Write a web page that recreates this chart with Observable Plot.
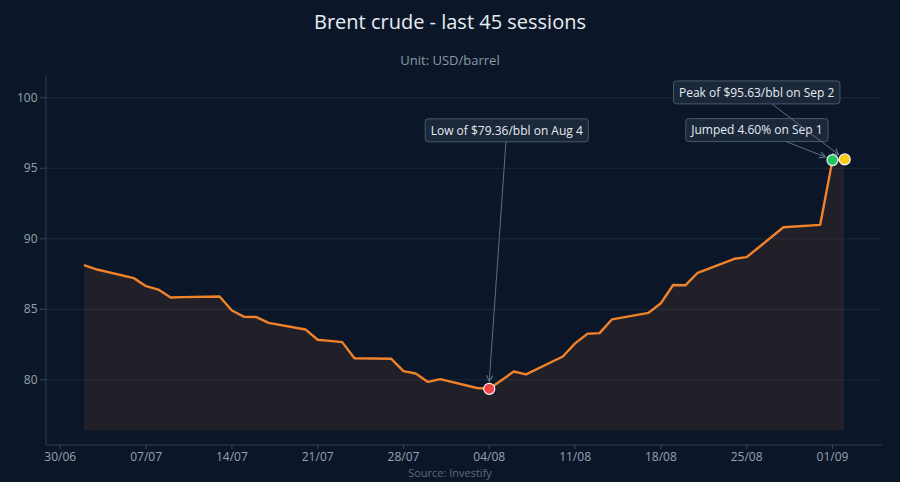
<!DOCTYPE html>
<html>
<head>
<meta charset="utf-8">
<script src="https://cdn.jsdelivr.net/npm/d3@7"></script>
<script src="https://cdn.jsdelivr.net/npm/@observablehq/plot@0.6"></script>
<style>
  html, body { margin: 0; padding: 0; background: #0b1728; }
  body { width: 900px; height: 482px; overflow: hidden; font-family: "Open Sans", "Noto Sans", sans-serif; }
  #title { height: 24px; padding-top: 10px; line-height: 24px; font-size: 20px; color: #e8edf3; text-align: center; }
  #subtitle { margin-top: 18px; height: 16px; line-height: 16px; font-size: 13px; color: #8e98a8; text-align: center; }
  #chart svg { display: block; }
  #source { height: 14px; line-height: 14px; font-size: 11px; color: #5d6a7c; text-align: center; }
</style>
</head>
<body>
<div id="title">Brent crude - last 45 sessions</div>
<div id="subtitle">Unit: USD/barrel</div>
<div id="chart"></div>
<div id="source">Source: Investify</div>
<script>
// ---- data ----
const sessionDates = [
  "2020-07-02","2020-07-03","2020-07-06","2020-07-07","2020-07-08","2020-07-09","2020-07-10",
  "2020-07-13","2020-07-14","2020-07-15","2020-07-16","2020-07-17",
  "2020-07-20","2020-07-21","2020-07-22","2020-07-23","2020-07-24",
  "2020-07-27","2020-07-28","2020-07-29","2020-07-30","2020-07-31",
  "2020-08-03","2020-08-04","2020-08-05","2020-08-06","2020-08-07",
  "2020-08-10","2020-08-11","2020-08-12","2020-08-13","2020-08-14",
  "2020-08-17","2020-08-18","2020-08-19","2020-08-20","2020-08-21",
  "2020-08-24","2020-08-25","2020-08-26","2020-08-27","2020-08-28",
  "2020-08-31","2020-09-01","2020-09-02"
];
const closePrices = [
  88.11, 87.82, 87.21, 86.64, 86.40, 85.84, 85.86,
  85.91, 84.91, 84.46, 84.45, 84.04,
  83.57, 82.84, 82.76, 82.67, 81.53,
  81.49, 80.61, 80.45, 79.85, 80.05,
  79.42, 79.36, 79.97, 80.59, 80.38,
  81.65, 82.58, 83.26, 83.31, 84.28,
  84.75, 85.43, 86.72, 86.70, 87.59,
  88.58, 88.70, 89.40, 90.11, 90.82,
  90.99, 95.58, 95.63
];
const areaFloor = 76.36;
const yTicks = [80, 85, 90, 95, 100];
const xTickDates = ["2020-06-30","2020-07-07","2020-07-14","2020-07-21","2020-07-28",
  "2020-08-04","2020-08-11","2020-08-18","2020-08-25","2020-09-01"];
const annotationDates = ["2020-08-04", "2020-09-01", "2020-09-02"];
const annotationTexts = ["Low of $79.36/bbl on Aug 4", "Jumped 4.60% on Sep 1", "Peak of $95.63/bbl on Sep 2"];

// ---- build tables ----
const series = sessionDates.map((d, i) => ({date: new Date(d + "T00:00:00Z"), price: closePrices[i]}));
const annotations = annotationDates.map((d, i) => {
  const idx = sessionDates.indexOf(d);
  return {date: series[idx].date, price: series[idx].price, text: annotationTexts[i]};
});

// layout of annotation callouts (pixel offsets from point), and marker colours
const calloutOffsets = [[18, -258], [-75, -29.5], [-87.5, -66.5]];
const markerFills = ["#ef4444", "#22c55e", "#facc15"];

const W = 900, H = 398, mT = 7, mB = 21, mL = 46, mR = 18;

const canvas = document.createElement("canvas");
const ctx = canvas.getContext("2d");
ctx.font = '12px "Open Sans"';

function axisLines(index, scales, values, dims) {
  const g = d3.create("svg:g").attr("stroke", "#2e3d52").attr("stroke-width", 1);
  const x0 = dims.marginLeft, x1 = dims.width - dims.marginRight;
  const y0 = dims.marginTop, y1 = dims.height - dims.marginBottom;
  g.append("line").attr("x1", x0).attr("x2", x0).attr("y1", y0).attr("y2", y1);
  g.append("line").attr("x1", x0).attr("x2", x1).attr("y1", y1).attr("y2", y1);
  return g.node();
}

function callouts(index, scales) {
  const g = d3.create("svg:g");
  annotations.forEach((a, i) => {
    const px = scales.x(a.date), py = scales.y(a.price);
    const [ox, oy] = calloutOffsets[i];
    const cx = px + ox, cy = py + oy;
    const tw = ctx.measureText(a.text).width;
    const hw = tw / 2 + 5.5, hh = 11.5;
    const dx = px - cx, dy = py - cy;
    const len = Math.hypot(dx, dy);
    const ux = dx / len, uy = dy / len;
    const tEdge = Math.min(Math.abs(dx) > 0 ? hw / Math.abs(dx) : Infinity, hh / Math.abs(dy));
    const sx = cx + dx * tEdge, sy = cy + dy * tEdge;
    const ex = px - ux * 7, ey = py - uy * 7;
    g.append("line").attr("x1", sx).attr("y1", sy).attr("x2", ex).attr("y2", ey)
      .attr("stroke", "#5f6d82").attr("stroke-width", 1);
    // arrow head (open chevron)
    const ah = 6, aw = 3.2;
    const bx = ex - ux * ah, by = ey - uy * ah;
    g.append("path")
      .attr("d", `M${bx - uy * aw},${by + ux * aw}L${ex},${ey}L${bx + uy * aw},${by - ux * aw}`)
      .attr("fill", "none").attr("stroke", "#5f6d82").attr("stroke-width", 1.2);
    g.append("rect").attr("x", cx - hw).attr("y", cy - hh).attr("width", hw * 2).attr("height", hh * 2)
      .attr("rx", 3).attr("fill", "#1b2839").attr("stroke", "#4a586c").attr("stroke-width", 1);
    g.append("text").attr("x", cx).attr("y", cy).attr("dy", "0.35em").attr("text-anchor", "middle")
      .attr("fill", "#e6eaf0").attr("font-size", 12).attr("font-family", '"Open Sans", sans-serif')
      .text(a.text);
  });
  return g.node();
}

const chart = Plot.plot({
  width: W, height: H,
  marginTop: mT, marginBottom: mB, marginLeft: mL, marginRight: mR,
  style: {background: "transparent", color: "#97a1b1", fontSize: "12px", fontFamily: '"Open Sans", sans-serif'},
  x: {type: "utc", domain: [new Date(Date.UTC(2020, 5, 28, 21)), new Date(Date.UTC(2020, 8, 5, 2))]},
  y: {domain: [75.34, 101.58]},
  marks: [
    Plot.gridY(yTicks, {stroke: "#1a293c", strokeOpacity: 1}),
    Plot.areaY(series, {x: "date", y1: areaFloor, y2: "price", fill: "#ff8a3a", fillOpacity: 0.09}),
    Plot.line(series, {x: "date", y: "price", stroke: "#f0822a", strokeWidth: 2.4, strokeLinejoin: "round"}),
    axisLines,
    Plot.axisX(xTickDates.map(d => new Date(d + "T00:00:00Z")), {
      tickFormat: d3.utcFormat("%d/%m"), tickSize: 4, tickPadding: 3,
      stroke: "#34445a", fill: "#97a1b1", fontSize: 12, label: null
    }),
    Plot.axisY(yTicks, {tickSize: 6, tickPadding: 3, stroke: "#34445a", fill: "#97a1b1", fontSize: 12, label: null}),
    callouts,
    Plot.dot(annotations, {x: "date", y: "price", r: 5.5, fill: (d, i) => markerFills[i], stroke: "#f1f3f6", strokeWidth: 1.2})
  ]
});
document.getElementById("chart").appendChild(chart);
</script>
</body>
</html>
